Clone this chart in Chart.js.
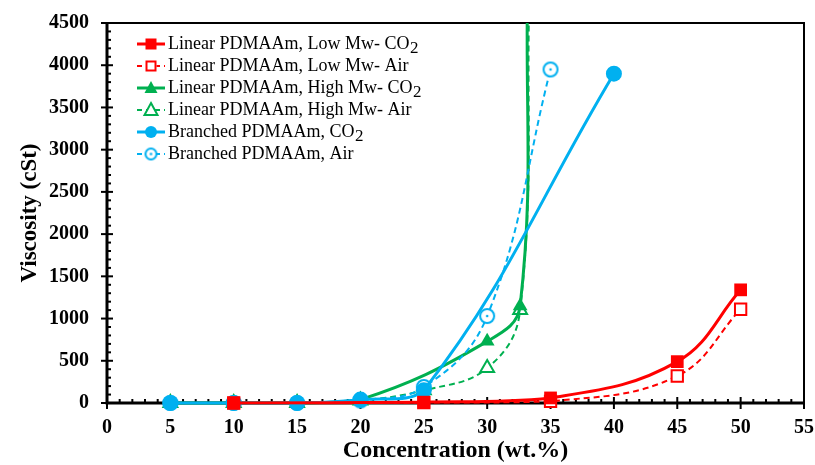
<!DOCTYPE html>
<html>
<head>
<meta charset="utf-8">
<script src="https://cdn.jsdelivr.net/npm/chart.js@4.4.1/dist/chart.umd.min.js"></script>
<style>
  html, body { margin: 0; padding: 0; background: #fff; }
  #wrap { width: 815px; height: 465px; }
</style>
</head>
<body>
<div id="wrap"><canvas id="chart"></canvas></div>
<script>
// tick values
const xTickValues = [0, 5, 10, 15, 20, 25, 30, 35, 40, 45, 50, 55];
const yTickValues = [0, 500, 1000, 1500, 2000, 2500, 3000, 3500, 4000, 4500];

// series (wt.% -> cSt); last green points sit above the plot top
const lowCo2X = [10, 25, 35, 45, 50];
const lowCo2Y = [0, 10, 60, 490, 1340];
const lowAirX = [10, 25, 35, 45, 50];
const lowAirY = [0, 5, 20, 320, 1110];
const highCo2X = [5, 10, 15, 20, 30, 32.6, 33.2];
const highCo2Y = [0, 0, 0, 40, 730, 1150, 5000];
const highAirX = [5, 10, 15, 20, 25, 30, 32.6, 33.35];
const highAirY = [0, 0, 0, 30, 150, 413, 1100, 5000];
const brCo2X = [5, 10, 15, 20, 25, 40];
const brCo2Y = [0, 0, 0, 40, 150, 3900];
const brAirX = [5, 10, 15, 20, 25, 30, 35];
const brAirY = [0, 0, 0, 30, 190, 1030, 3950];

const labels = [
  'Linear PDMAAm, Low Mw- CO2',
  'Linear PDMAAm, Low Mw- Air',
  'Linear PDMAAm, High Mw- CO2',
  'Linear PDMAAm, High Mw- Air',
  'Branched PDMAAm, CO2',
  'Branched PDMAAm, Air'
];

const RED = '#ff0000', GREEN = '#00b050', BLUE = '#00b0f0';

function zip(xs, ys) {
  return xs.map((x, i) => ({ x: x, y: ys[i] }));
}

// open circle with a dot in the middle
function dotCircle(r) {
  const c = document.createElement('canvas');
  const s = Math.ceil(r * 2 + 4);
  c.width = s; c.height = s;
  const g = c.getContext('2d');
  g.fillStyle = '#fff';
  g.strokeStyle = BLUE;
  g.lineWidth = 2;
  g.beginPath(); g.arc(s / 2, s / 2, r, 0, Math.PI * 2); g.fill(); g.stroke();
  g.fillStyle = BLUE;
  g.beginPath(); g.arc(s / 2, s / 2, 1.3, 0, Math.PI * 2); g.fill();
  return c;
}
const blueOpen = dotCircle(7);
const blueOpenSmall = dotCircle(5.5);

function series(label, xs, ys, color, style, open, dashed, order, radius) {
  return {
    label: label,
    data: zip(xs, ys),
    borderColor: color,
    backgroundColor: color,
    borderWidth: dashed ? 2 : 3,
    borderDash: dashed ? [6, 4] : [],
    pointStyle: style,
    pointRadius: radius,
    pointHoverRadius: radius,
    pointBackgroundColor: open ? '#fff' : color,
    pointBorderColor: color,
    pointBorderWidth: open ? 2 : 0,
    tension: 0.4,
    order: order,
    clip: { left: 20, right: 20, top: 0, bottom: 20 }
  };
}

const datasets = [
  series(labels[0], lowCo2X, lowCo2Y, RED, 'rect', false, false, 0, 9),
  series(labels[1], lowAirX, lowAirY, RED, 'rect', true, true, 1, 8),
  series(labels[2], highCo2X, highCo2Y, GREEN, 'triangle', false, false, 4, 8.5),
  series(labels[3], highAirX, highAirY, GREEN, 'triangle', true, true, 5, 8),
  series(labels[4], brCo2X, brCo2Y, BLUE, 'circle', false, false, 2, 8),
  series(labels[5], brAirX, brAirY, BLUE, blueOpen, true, true, 3, 7)
];

// minor/major ticks and the frame
const axisTicks = {
  id: 'axisTicks',
  beforeDatasetsDraw(chart) {
    const { ctx, chartArea: a, scales: { x, y } } = chart;
    ctx.save();
    ctx.strokeStyle = '#000';
    ctx.lineWidth = 2;
    ctx.strokeRect(a.left, a.top, a.right - a.left, a.bottom - a.top);
    for (let v = 0; v <= 55; v++) {
      const px = x.getPixelForValue(v);
      ctx.beginPath();
      if (v % 5 === 0) { ctx.moveTo(px, a.bottom - 6); ctx.lineTo(px, a.bottom + 6); }
      else { ctx.moveTo(px, a.bottom); ctx.lineTo(px, a.bottom - 4); }
      ctx.stroke();
    }
    for (let v = 0; v <= 4500; v += 100) {
      const py = y.getPixelForValue(v);
      ctx.beginPath();
      if (v % 500 === 0) { ctx.moveTo(a.left - 6, py); ctx.lineTo(a.left + 6, py); }
      else { ctx.moveTo(a.left, py); ctx.lineTo(a.left + 4, py); }
      ctx.stroke();
    }
    ctx.lineWidth = 3;
    ctx.beginPath();
    ctx.moveTo(a.left, a.top); ctx.lineTo(a.left, a.bottom); ctx.lineTo(a.right, a.bottom);
    ctx.stroke();
    ctx.restore();
  }
};

function marker(ctx, ds, cx, cy) {
  ctx.save();
  ctx.setLineDash([]);
  ctx.lineWidth = 2;
  ctx.strokeStyle = ds.borderColor;
  ctx.fillStyle = ds.pointBackgroundColor;
  if (ds.pointStyle === 'rect') {
    const s = 5.5;
    ctx.fillRect(cx - s, cy - s, 2 * s, 2 * s);
    if (ds.pointBorderWidth) ctx.strokeRect(cx - s + 1, cy - s + 1, 2 * s - 2, 2 * s - 2);
  } else if (ds.pointStyle === 'triangle') {
    ctx.beginPath();
    ctx.moveTo(cx, cy - 7); ctx.lineTo(cx + 6.5, cy + 5); ctx.lineTo(cx - 6.5, cy + 5); ctx.closePath();
    ctx.fill();
    if (ds.pointBorderWidth) ctx.stroke();
  } else if (ds.pointStyle === 'circle') {
    ctx.beginPath(); ctx.arc(cx, cy, 6, 0, Math.PI * 2); ctx.fill();
  } else {
    ctx.drawImage(blueOpenSmall, cx - blueOpenSmall.width / 2, cy - blueOpenSmall.height / 2);
  }
  ctx.restore();
}

const legendBox = {
  id: 'legendBox',
  afterDraw(chart) {
    const ctx = chart.ctx;
    const x0 = 137, x1 = 165, tx = 168;
    ctx.save();
    chart.data.datasets.forEach((ds, i) => {
      const cy = 44 + i * 22;
      ctx.strokeStyle = ds.borderColor;
      ctx.lineWidth = ds.borderWidth;
      ctx.setLineDash(ds.borderDash.length ? [5, 4] : []);
      ctx.beginPath(); ctx.moveTo(x0, cy); ctx.lineTo(x1, cy); ctx.stroke();
      marker(ctx, ds, (x0 + x1) / 2, cy);
      ctx.fillStyle = '#000';
      ctx.textBaseline = 'middle';
      ctx.font = '18px "Liberation Serif"';
      let text = ds.label, sub = '';
      if (text.endsWith('CO2')) { text = text.slice(0, -1); sub = '2'; }
      ctx.fillText(text, tx, cy);
      if (sub) {
        const w = ctx.measureText(text).width;
        ctx.font = '17px "Liberation Serif"';
        ctx.fillText(sub, tx + w + 0.5, cy + 5);
      }
    });
    ctx.restore();
  }
};

new Chart(document.getElementById('chart'), {
  type: 'line',
  data: { datasets: datasets },
  options: {
    responsive: true,
    maintainAspectRatio: false,
    animation: false,
    layout: { padding: { top: 23, right: 11, left: 0, bottom: 0 } },
    plugins: { legend: { display: false }, tooltip: { enabled: false } },
    scales: {
      x: {
        type: 'linear',
        min: 0, max: 55,
        afterBuildTicks: (s) => { s.ticks = xTickValues.map(v => ({ value: v })); },
        afterFit: (s) => { s.height = 62; s.paddingLeft = 0; s.paddingRight = 0; },
        grid: { display: false, drawTicks: false },
        border: { display: false },
        ticks: {
          color: '#000', padding: 13,
          callback: (v) => String(v),
          font: { family: 'Liberation Serif', weight: 'bold', size: 20 }
        },
        title: {
          display: true, text: 'Concentration (wt.%)', color: '#000', padding: 0,
          font: { family: 'Liberation Serif', weight: 'bold', size: 24 }
        }
      },
      y: {
        type: 'linear',
        min: 0, max: 4500,
        afterBuildTicks: (s) => { s.ticks = yTickValues.map(v => ({ value: v })); },
        afterFit: (s) => { s.width = 107; s.paddingTop = 0; s.paddingBottom = 0; },
        grid: { display: false, drawTicks: false },
        border: { display: false },
        ticks: {
          color: '#000', padding: 18,
          callback: (v) => String(v),
          font: { family: 'Liberation Serif', weight: 'bold', size: 20 }
        },
        title: {
          display: true, text: 'Viscosity (cSt)', color: '#000', padding: { top: 16, bottom: 0 },
          font: { family: 'Liberation Serif', weight: 'bold', size: 23 }
        }
      }
    }
  },
  plugins: [axisTicks, legendBox]
});
</script>
</body>
</html>
